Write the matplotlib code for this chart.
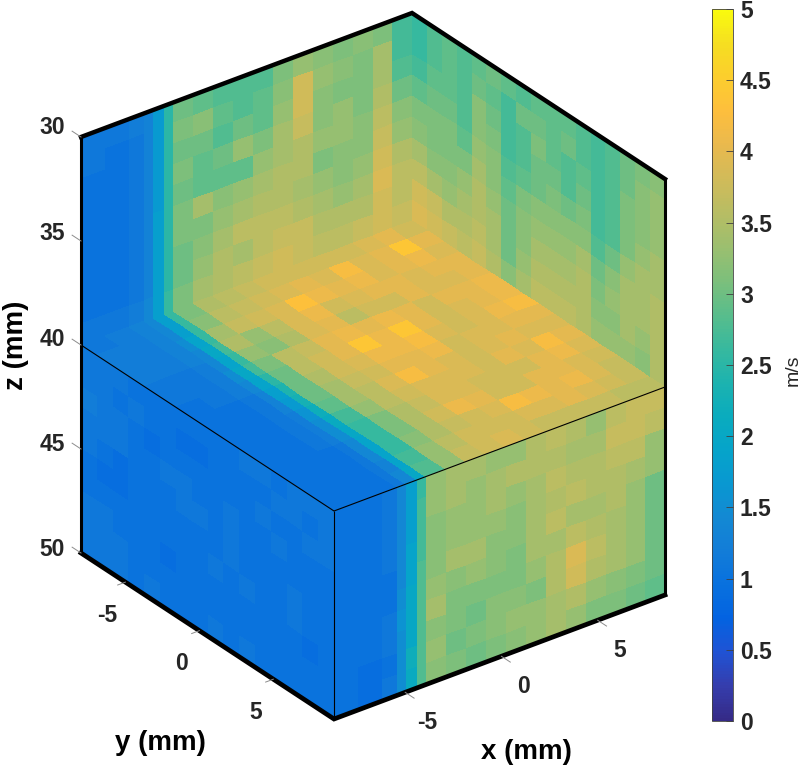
import numpy as np
import matplotlib
matplotlib.use("Agg")
import matplotlib.pyplot as plt
from matplotlib.colors import LinearSegmentedColormap

plt.rcParams['font.family'] = ['Liberation Sans', 'DejaVu Sans']

# axis limits in mm
x_min, x_max = -8.7, 8.5
y_min, y_max = -8.0, 9.1
z_top, z_mid, z_bot = 30.0, 40.0, 50.0

# column edges along x, finer where the speed jumps
x_edges = np.array([-8.7, -7.45, -6.2, -5.42, -4.95, -4.38, -3.92, -2.88, -1.84, -0.8, 0.24,
                    1.28, 2.32, 3.36, 4.4, 5.44, 6.48, 7.46, 8.5])
y_edges = np.linspace(y_min, y_max, 17)
y_edges_wall = np.linspace(y_min, y_max, 18)
z_edges_upper = np.linspace(z_top, z_mid, 11)
z_edges_lower = np.linspace(z_mid, z_bot, 11)

# wall at y = y_min, z 30..40
wall_back_left = [
    [1.1, 1.1, 1.2, 1.3, 1.7, 2.5, 3.0, 2.9, 2.8, 2.8, 2.8, 3.1, 3.3, 3.2, 3.1, 3.2, 3.1, 2.7],
    [1.1, 1.0, 1.1, 1.3, 1.7, 2.5, 3.1, 3.2, 2.9, 2.8, 2.9, 3.2, 3.8, 3.3, 3.2, 3.1, 3.4, 2.7],
    [1.0, 1.0, 1.1, 1.3, 1.7, 2.5, 3.0, 3.0, 2.8, 3.0, 2.9, 3.3, 3.8, 3.2, 3.1, 3.1, 3.4, 2.8],
    [1.0, 1.0, 1.1, 1.3, 1.7, 2.5, 3.1, 2.9, 3.0, 3.3, 3.1, 3.4, 3.7, 3.2, 3.3, 3.1, 3.5, 3.0],
    [1.0, 1.0, 1.1, 1.3, 1.7, 2.5, 3.0, 2.9, 2.9, 2.9, 3.3, 3.4, 3.5, 3.3, 3.3, 3.2, 3.6, 3.2],
    [1.0, 1.0, 1.1, 1.3, 1.8, 2.5, 3.1, 3.4, 3.2, 3.3, 3.4, 3.5, 3.5, 3.1, 3.2, 3.2, 3.7, 3.3],
    [1.0, 1.0, 1.1, 1.3, 1.8, 2.5, 3.1, 3.1, 3.3, 3.4, 3.5, 3.5, 3.4, 3.3, 3.2, 3.3, 3.8, 3.5],
    [1.0, 1.0, 1.1, 1.3, 1.8, 2.5, 3.0, 3.2, 3.4, 3.6, 3.6, 3.6, 3.5, 3.4, 3.3, 3.4, 3.9, 3.6],
    [1.0, 1.0, 1.1, 1.3, 1.8, 2.5, 3.0, 3.3, 3.5, 3.4, 3.6, 3.7, 3.7, 3.5, 3.5, 3.5, 3.8, 3.6],
    [1.1, 1.1, 1.2, 1.4, 1.8, 2.6, 3.1, 3.4, 3.5, 3.6, 3.7, 3.8, 3.7, 3.6, 3.6, 3.7, 3.8, 3.7],
]

# wall at x = x_max, z 30..40
wall_back_right = [
    [2.6, 2.8, 2.9, 2.8, 2.9, 3.0, 2.9, 2.8, 2.9, 2.9, 2.9, 2.8, 2.7, 2.8, 3.0, 3.1, 3.2],
    [2.6, 2.8, 2.9, 2.8, 3.0, 2.9, 2.7, 3.0, 3.0, 2.9, 3.0, 2.8, 2.7, 2.8, 3.0, 3.2, 3.3],
    [2.7, 2.9, 2.9, 2.8, 3.2, 3.0, 2.7, 2.8, 3.1, 2.9, 2.8, 2.9, 2.7, 2.8, 3.1, 3.2, 3.3],
    [2.9, 3.0, 3.0, 2.8, 3.2, 3.1, 2.7, 2.8, 3.0, 3.0, 2.8, 3.0, 2.7, 2.8, 3.1, 3.2, 3.3],
    [3.1, 3.1, 3.1, 2.9, 3.3, 3.2, 2.8, 2.9, 3.0, 3.1, 3.0, 3.1, 2.7, 2.8, 3.1, 3.3, 3.4],
    [3.2, 3.1, 3.1, 3.1, 3.4, 3.2, 2.9, 3.1, 3.2, 3.2, 3.2, 3.2, 2.8, 3.0, 3.3, 3.4, 3.4],
    [3.4, 3.2, 3.2, 3.3, 3.5, 3.3, 3.0, 3.2, 3.3, 3.3, 3.3, 3.4, 3.0, 3.2, 3.4, 3.4, 3.5],
    [3.6, 3.4, 3.3, 3.4, 3.5, 3.4, 3.0, 3.2, 3.4, 3.4, 3.4, 3.5, 3.1, 3.3, 3.4, 3.4, 3.5],
    [3.8, 3.7, 3.5, 3.5, 3.6, 3.4, 3.0, 3.3, 3.5, 3.5, 3.5, 3.5, 3.2, 3.2, 3.4, 3.3, 3.5],
    [3.9, 3.8, 3.7, 3.6, 3.7, 3.5, 3.2, 3.4, 3.6, 3.6, 3.6, 3.5, 3.3, 3.3, 3.3, 3.2, 3.5],
]

# floor at z = 40, rows run from y_min towards y_max
floor_values = [
    [1.1, 1.2, 1.3, 1.4, 1.8, 2.6, 3.1, 3.5, 3.6, 3.7, 3.8, 3.8, 3.8, 3.8, 3.8, 3.9, 4.0, 3.8],
    [1.2, 1.2, 1.3, 1.4, 1.8, 2.6, 3.2, 3.6, 3.7, 3.8, 3.9, 4.0, 3.9, 4.2, 3.9, 4.0, 4.4, 4.0],
    [1.2, 1.2, 1.3, 1.5, 1.9, 2.6, 3.4, 3.7, 3.8, 3.9, 4.3, 4.1, 4.0, 4.1, 3.9, 4.0, 4.1, 3.9],
    [1.2, 1.2, 1.3, 1.4, 2.0, 2.7, 3.5, 3.3, 3.6, 3.9, 4.1, 3.8, 3.9, 4.0, 4.0, 3.9, 4.0, 4.0],
    [1.1, 1.1, 1.2, 1.4, 1.9, 2.6, 3.3, 3.2, 3.5, 3.9, 4.0, 3.6, 3.8, 3.8, 4.0, 3.9, 3.9, 4.0],
    [1.1, 1.1, 1.2, 1.5, 2.0, 2.7, 3.1, 3.6, 3.7, 4.0, 4.1, 4.0, 4.1, 4.0, 3.8, 4.0, 4.0, 4.1],
    [1.0, 1.1, 1.2, 1.4, 1.9, 2.5, 3.0, 3.6, 3.8, 4.0, 4.4, 4.1, 4.4, 4.0, 3.8, 3.9, 4.0, 4.1],
    [1.0, 1.0, 1.1, 1.3, 1.8, 2.4, 3.0, 3.5, 3.8, 3.9, 4.1, 4.1, 4.2, 3.9, 3.8, 3.9, 4.1, 4.2],
    [1.0, 1.0, 1.1, 1.3, 1.7, 2.3, 3.0, 3.4, 3.7, 3.8, 4.0, 4.0, 4.1, 3.8, 3.9, 3.9, 4.0, 4.0],
    [1.0, 1.0, 1.1, 1.2, 1.6, 2.2, 2.9, 3.4, 3.6, 3.9, 4.2, 4.0, 3.9, 3.8, 3.9, 4.0, 3.9, 3.9],
    [1.0, 1.0, 1.1, 1.2, 1.5, 2.1, 2.7, 3.3, 3.6, 3.8, 3.9, 3.9, 3.9, 3.8, 4.0, 3.9, 4.2, 4.0],
    [1.0, 1.0, 1.1, 1.2, 1.5, 2.0, 2.6, 3.1, 3.5, 3.7, 3.9, 3.9, 3.8, 3.8, 3.8, 4.0, 4.1, 3.9],
    [1.0, 1.0, 1.0, 1.1, 1.4, 1.9, 2.6, 3.1, 3.5, 3.8, 4.1, 4.0, 3.8, 3.8, 4.0, 4.0, 3.9, 3.8],
    [1.0, 1.0, 1.0, 1.1, 1.4, 1.9, 2.6, 3.2, 3.5, 3.7, 3.8, 3.9, 4.2, 4.1, 4.0, 4.1, 3.9, 3.7],
    [1.0, 1.0, 1.0, 1.1, 1.3, 1.9, 2.7, 3.3, 3.6, 3.8, 3.8, 3.8, 3.9, 3.9, 4.0, 3.9, 3.8, 3.7],
    [1.0, 1.0, 1.0, 1.1, 1.4, 2.0, 2.8, 3.3, 3.7, 3.8, 3.9, 3.8, 3.7, 3.7, 3.7, 3.7, 3.6, 3.6],
]

# face at x = x_min, z 40..50
face_front_left = [
    [1.1, 1.1, 1.1, 1.0, 1.0, 1.0, 1.0, 1.0, 1.0, 1.0, 1.1, 1.1, 1.0, 1.1, 1.1, 1.1],
    [1.1, 1.1, 1.0, 1.1, 1.0, 1.0, 0.9, 0.9, 1.0, 1.0, 1.0, 1.0, 1.1, 1.1, 1.0, 1.1],
    [1.2, 1.1, 1.1, 1.0, 0.9, 1.0, 1.0, 1.0, 1.0, 1.0, 1.0, 1.1, 1.0, 1.0, 1.1, 1.1],
    [1.1, 1.1, 1.1, 1.0, 1.0, 1.1, 1.1, 1.0, 1.0, 1.1, 1.0, 1.0, 1.1, 1.0, 1.0, 1.0],
    [1.1, 1.0, 0.9, 1.0, 1.0, 1.0, 1.1, 1.1, 1.0, 1.1, 1.0, 1.0, 1.0, 1.0, 1.0, 1.0],
    [1.0, 0.9, 0.9, 1.0, 1.0, 1.0, 1.0, 1.0, 1.0, 1.1, 1.0, 1.0, 1.0, 1.1, 1.0, 1.0],
    [1.0, 1.0, 1.0, 1.0, 1.0, 1.0, 1.0, 1.0, 1.1, 1.0, 1.1, 1.0, 1.0, 1.1, 1.0, 1.0],
    [1.1, 1.1, 1.0, 1.0, 1.0, 0.9, 1.0, 1.0, 1.0, 1.0, 1.0, 1.0, 1.0, 1.0, 0.9, 1.0],
    [1.1, 1.1, 1.1, 1.0, 1.0, 1.0, 1.0, 1.0, 1.0, 1.0, 1.0, 1.0, 1.0, 1.0, 1.0, 1.0],
    [1.1, 1.1, 1.1, 1.0, 1.1, 1.0, 1.0, 1.0, 1.1, 1.0, 1.1, 1.0, 1.0, 1.0, 1.0, 1.0],
]

# face at y = y_max, z 40..50
face_front_right = [
    [1.0, 1.0, 1.1, 1.4, 1.8, 2.6, 3.3, 3.4, 3.4, 3.3, 3.3, 3.5, 3.6, 3.5, 3.3, 3.6, 3.7, 3.7],
    [1.0, 1.0, 1.1, 1.4, 1.8, 2.7, 3.3, 3.4, 3.3, 3.4, 3.5, 3.5, 3.5, 3.4, 3.4, 3.7, 3.7, 3.6],
    [1.0, 1.0, 1.1, 1.4, 1.8, 2.7, 3.2, 3.3, 3.3, 3.4, 3.3, 3.4, 3.6, 3.5, 3.5, 3.6, 3.6, 3.3],
    [1.0, 1.0, 1.1, 1.4, 1.9, 2.7, 3.2, 3.3, 3.3, 3.3, 3.2, 3.4, 3.5, 3.6, 3.5, 3.5, 3.4, 3.3],
    [1.0, 1.0, 1.0, 1.4, 1.9, 2.8, 3.2, 3.4, 3.4, 3.2, 3.2, 3.4, 3.6, 3.4, 3.4, 3.5, 3.3, 3.0],
    [1.0, 1.0, 1.0, 1.5, 2.0, 2.8, 3.3, 3.2, 3.3, 3.2, 3.1, 3.4, 3.4, 3.6, 3.5, 3.4, 3.3, 3.0],
    [1.0, 1.0, 1.1, 1.6, 2.0, 2.8, 3.4, 3.1, 3.1, 3.1, 3.1, 3.3, 3.5, 3.9, 3.6, 3.4, 3.3, 3.0],
    [1.0, 1.0, 1.1, 1.5, 2.0, 2.8, 3.2, 3.1, 3.0, 3.2, 3.2, 3.1, 3.5, 3.8, 3.5, 3.4, 3.3, 3.0],
    [1.0, 0.9, 1.0, 1.5, 2.2, 2.8, 3.3, 3.0, 3.1, 3.2, 3.3, 3.3, 3.4, 3.5, 3.3, 3.2, 3.1, 3.0],
    [1.0, 0.9, 1.1, 1.5, 2.1, 2.8, 3.2, 3.1, 3.0, 3.1, 3.2, 3.3, 3.4, 3.3, 3.1, 3.1, 3.0, 2.9],
]

x_ticks = [-5, 0, 5]
y_ticks = [-5, 0, 5]
z_ticks = [30, 35, 40, 45, 50]
bar_ticks = [0, 0.5, 1, 1.5, 2, 2.5, 3, 3.5, 4, 4.5, 5]
bar_labels = ['0', '0.5', '1', '1.5', '2', '2.5', '3', '3.5', '4', '4.5', '5']

# parula, every fourth entry or so
parula_colors = [
    (0.2081, 0.1663, 0.5292), (0.2081, 0.2386, 0.6771), (0.1253, 0.3242, 0.8303),
    (0.0117, 0.3875, 0.8820), (0.0329, 0.4430, 0.8720), (0.0723, 0.4887, 0.8467),
    (0.0749, 0.5375, 0.8263), (0.0343, 0.5966, 0.8199), (0.0231, 0.6418, 0.7913),
    (0.0384, 0.6743, 0.7436), (0.1133, 0.7015, 0.6859), (0.2178, 0.7250, 0.6193),
    (0.3482, 0.7424, 0.5473), (0.4871, 0.7491, 0.4840), (0.6099, 0.7473, 0.4337),
    (0.7184, 0.7411, 0.3905), (0.8185, 0.7327, 0.3498), (0.9139, 0.7258, 0.3063),
    (0.9938, 0.7455, 0.2403), (0.9880, 0.8066, 0.1794), (0.9626, 0.8705, 0.1309),
    (0.9763, 0.9831, 0.0538),
]
parula = LinearSegmentedColormap.from_list('parula', parula_colors, N=256)


# isometric style projection to figure pixels
def project(x, y, z):
    u = (np.asarray(x, dtype=float) - x_min) / (x_max - x_min)
    v = (np.asarray(y, dtype=float) - y_min) / (y_max - y_min)
    w = (np.asarray(z, dtype=float) - z_top) / (z_bot - z_top)
    return 81 + 331 * u + 253 * v, 137 - 124 * u + 166 * v + 416 * w


def draw_face(ax, x, y, z, values):
    px, py = project(x, y, z)
    return ax.pcolormesh(px, py, np.array(values), cmap=parula, vmin=0, vmax=5,
                         shading='flat', linewidth=0, antialiased=False)


fig = plt.figure(figsize=(8.0, 7.71), dpi=100)
ax = fig.add_axes([0, 0, 1, 1])
ax.set_xlim(0, 800)
ax.set_ylim(771, 0)
ax.axis('off')

X, Z = np.meshgrid(x_edges, z_edges_upper)
draw_face(ax, X, np.full(X.shape, y_min), Z, wall_back_left)

Y, Z = np.meshgrid(y_edges_wall, z_edges_upper)
draw_face(ax, np.full(Y.shape, x_max), Y, Z, wall_back_right)

X, Y = np.meshgrid(x_edges, y_edges)
draw_face(ax, X, Y, np.full(X.shape, z_mid), floor_values)

Y, Z = np.meshgrid(y_edges, z_edges_lower)
draw_face(ax, np.full(Y.shape, x_min), Y, Z, face_front_left)

X, Z = np.meshgrid(x_edges, z_edges_lower)
mesh = draw_face(ax, X, np.full(X.shape, y_max), Z, face_front_right)

# thin box edges
for pts in ([(x_min, y_min, z_mid), (x_min, y_max, z_mid), (x_max, y_max, z_mid)],
            [(x_min, y_max, z_mid), (x_min, y_max, z_bot)]):
    px, py = project(*zip(*pts))
    ax.plot(px, py, color='black', lw=0.8, solid_capstyle='butt')

# heavy outline
outline = [(x_min, y_min, z_top), (x_max, y_min, z_top), (x_max, y_max, z_top), (x_max, y_max, z_bot),
           (x_min, y_max, z_bot), (x_min, y_min, z_bot), (x_min, y_min, z_top)]
px, py = project(*zip(*outline))
ax.plot(px[:3], py[:3], color='black', lw=3.2, solid_joinstyle='miter')
ax.plot(px[2:4], py[2:4], color='black', lw=2.2, solid_capstyle='butt')
ax.plot(px[3:6], py[3:6], color='black', lw=3.4, solid_joinstyle='miter')
ax.plot(px[5:7], py[5:7], color='black', lw=2.2, solid_capstyle='butt')

tick_color = '#8c8c8c'
label_color = '#262626'
label_kw = dict(fontsize=16.5, fontweight='bold', color=label_color)

for z in z_ticks:
    px, py = project([x_min, x_min], [y_min, y_min - 0.6], [z, z])
    ax.plot(px, py, color=tick_color, lw=0.7)
    ax.text(65, py[0] - 9 + 6 * (z - 30) / 20, str(z), ha='right', va='center', **label_kw)

for y in y_ticks:
    px, py = project([x_min, x_min - 0.4], [y, y], [z_bot, z_bot])
    ax.plot(px, py, color=tick_color, lw=0.7)
    ax.text(px[0] - 18, py[0] + 33, str(y), ha='center', va='center', **label_kw)

for x in x_ticks:
    px, py = project([x, x], [y_max, y_max + 0.6], [z_bot, z_bot])
    ax.plot(px, py, color=tick_color, lw=0.7)
    ax.text(px[0] + 22, py[0] + 30, str(x), ha='center', va='center', **label_kw)

ax.text(16, 345, 'z (mm)', rotation=90, ha='center', va='center', fontsize=20, fontweight='bold', color='black')
ax.text(160, 743, 'y (mm)', ha='center', va='center', fontsize=20, fontweight='bold', color='black')
ax.text(526, 752, 'x (mm)', ha='center', va='center', fontsize=20, fontweight='bold', color='black')

cax = fig.add_axes([712 / 800, 1 - 721 / 771, 21 / 800, 712 / 771])
cbar = fig.colorbar(mesh, cax=cax)
cbar.set_ticks(bar_ticks)
cbar.set_ticklabels(bar_labels)
cbar.ax.tick_params(direction='in', length=5, width=0.6, color='#404040', pad=5, labelsize=16.5, labelcolor=label_color)
for label in cbar.ax.get_yticklabels():
    label.set_fontweight('bold')
cbar.outline.set_linewidth(0.6)
cbar.outline.set_edgecolor('#404040')
fig.text(793 / 800, 1 - 370 / 771, 'm/s', rotation=90, ha='center', va='center', fontsize=14, color=label_color)

fig.savefig('out.png', dpi=100)
